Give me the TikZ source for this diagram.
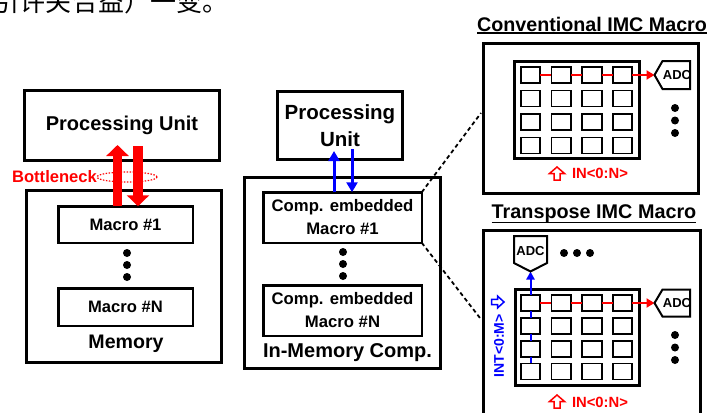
\documentclass[tikz,border=0pt]{standalone}
\usepackage{fontspec}
\setmainfont{Liberation Sans}
\newfontfamily\cjk{Noto Sans CJK SC}
\usetikzlibrary{arrows.meta,calc,shapes.geometric}
\begin{document}
\begin{tikzpicture}[x=1pt,y=-1pt,
 every node/.style={inner sep=0pt,outer sep=0pt,font=\bfseries},
 f/.style={font=\bfseries\fontsize{#1pt}{#1pt}\selectfont},
 box/.style={draw,line width=3pt},
 mbox/.style={draw,line width=2.5pt},
 cell/.style={draw,line width=1.8pt,fill=white,minimum width=19.5pt,minimum height=16pt},
 bdot/.style={circle,fill=black,minimum size=8pt},
 fatarr/.style={red,line width=9.5pt,-{Triangle[width=22pt,length=11pt]}},
 blarr/.style={blue,line width=3pt,-{Triangle[width=11pt,length=10pt]}},
 blarrs/.style={blue,line width=2pt,-{Triangle[width=8pt,length=8pt]}},
 rowline/.style={red,line width=2pt,-{Triangle[width=9pt,length=8pt]}},
 dline/.style={line width=1.8pt,dash pattern=on 4pt off 3pt},
 adcs/.style={draw,line width=2pt,fill=white,line join=miter},
 hollow/.style={line width=1.5pt,fill=white,line join=miter}
]
\useasboundingbox (0,0) rectangle (708,412);
\fill[white] (0,0) rectangle (708,412);

% clipped Chinese text line at the top
\node[anchor=base west,font=\cjk\fontsize{26pt}{26pt}\selectfont] (zh) at (-6,12) {引许关合益）一变。};

% ---------- left: conventional memory ----------
\node[box,minimum width=195pt,minimum height=70pt,f=20] (pu1) at (122,125.5) {Processing Unit};
\node[box,minimum width=195pt,minimum height=172pt] (mem) at (124,276.5) {};
\node[mbox,minimum width=134.5pt,minimum height=36.5pt,f=16.6] (m1) at (125.5,224.5) {Macro \#1};
\node[mbox,minimum width=134.5pt,minimum height=37.5pt,f=16.6] (mN) at (125.5,307) {Macro \#N};
\node[bdot] (ld1) at (127,253) {};
\node[bdot] (ld2) at (127,265) {};
\node[bdot] (ld3) at (127,277) {};
\node[f=19.6] (memlbl) at (126,344) {Memory};

\coordinate (ux) at (117.5,0);
\coordinate (dx) at (138,0);
\draw[fatarr] (ux |- m1.north) -- ($(ux |- pu1.south)+(0,-15.5)$);
\draw[fatarr] ($(dx |- pu1.south)+(0,-14.5)$) -- (dx |- m1.north);
\node[text=red,f=16.6] (bn) at (54.5,177) {Bottleneck};
\node[ellipse,draw=red,line width=1.2pt,dash pattern=on 1.5pt off 1.5pt,minimum width=60pt,minimum height=10pt] (bell) at (127,177) {};

% ---------- middle: in-memory computing ----------
\node[box,minimum width=125pt,minimum height=68pt,align=center,font=\bfseries\fontsize{20.5pt}{27pt}\selectfont] (pu2) at (340,125.5) {Processing\\Unit};
\node[box,minimum width=196pt,minimum height=191pt] (imc) at (342.5,273) {};
\node[mbox,minimum width=158.5pt,minimum height=50.5pt,align=center,font=\bfseries\fontsize{16.7pt}{23pt}\selectfont] (cm1) at (342.5,217.5) {Comp. embedded\\Macro \#1};
\node[mbox,minimum width=158.5pt,minimum height=50.5pt,align=center,font=\bfseries\fontsize{16.7pt}{23pt}\selectfont] (cmN) at (342.5,310.5) {Comp. embedded\\Macro \#N};
\node[bdot] (md1) at (343,252) {};
\node[bdot] (md2) at (343,264) {};
\node[bdot] (md3) at (343,276) {};
\node[f=20] (imclbl) at (347.5,353) {In-Memory Comp.};

\coordinate (bux) at (334,0);
\coordinate (bdx) at (352,0);
\draw[blarr] (bux |- cm1.north) -- ($(bux |- pu2.south)+(0,-8.5)$);
\draw[blarr] ($(bdx |- pu2.south)+(0,-10.5)$) -- (bdx |- cm1.north);

\coordinate (dA) at (481,113);
\coordinate (dB) at (480,318);
\draw[dline] (cm1.north east) -- (dA);
\draw[dline] (cm1.south east) -- (dB);

% ---------- conventional IMC macro ----------
\node[anchor=base,f=19.7] (t1) at (592,31) {Conventional IMC Macro};
\draw[line width=1.5pt] ([yshift=-2pt]t1.base west) -- ([yshift=-2pt]t1.base east);
\node[box,minimum width=215pt,minimum height=150pt] (conv) at (591,118.5) {};
\node[box,minimum width=125pt,minimum height=97pt] (arrA) at (577,110) {};
\foreach \r in {1,...,4} \foreach \c in {1,...,4}
  \node[cell] (a-\r-\c) at ({530.5+30.7*(\c-1)},{75+23.5*(\r-1)}) {};
\draw[red,line width=2pt] (a-1-1.east) -- (a-1-2.west) (a-1-2.east) -- (a-1-3.west) (a-1-3.east) -- (a-1-4.west);
\coordinate (tipA) at (654.5,75);
\draw[rowline] (a-1-4.east) -- (tipA);
\draw[adcs] (tipA) -- (662.5,61) -- (690,61) -- (690,89) -- (662.5,89) -- cycle;
\node[f=13] (adcA) at (677,75) {ADC};
\node[bdot] (ad1) at (675,108) {};
\node[bdot] (ad2) at (675,120.5) {};
\node[bdot] (ad3) at (675,133) {};
\draw[red,hollow] (557,167) -- (564.5,173.5) -- (560,173.5) -- (560,180) -- (554,180) -- (554,173.5) -- (549.5,173.5) -- cycle;
\node[text=red,f=14.8] (inA) at (600,173) {IN<0:N>};

% ---------- transpose IMC macro ----------
\node[anchor=base,f=19.8] (t2) at (594,218) {Transpose IMC Macro};
\draw[line width=1.5pt] ([yshift=-4.5pt]t2.base west) -- ([yshift=-4.5pt]t2.base east);
\node[box,minimum width=217pt,minimum height=208pt] (trans) at (592,334.5) {};
\node[box,minimum width=124pt,minimum height=96pt] (arrB) at (577.5,337.5) {};
\foreach \r in {1,...,4} \foreach \c in {1,...,4}
  \node[cell] (b-\r-\c) at ({530.5+30.7*(\c-1)},{303+22.8*(\r-1)}) {};
\draw[blue,line width=2pt] (b-1-1.south) -- (b-2-1.north) (b-2-1.south) -- (b-3-1.north) (b-3-1.south) -- (b-4-1.north);
\draw[red,line width=2pt] (b-1-1.east) -- (b-1-2.west) (b-1-2.east) -- (b-1-3.west) (b-1-3.east) -- (b-1-4.west);
\coordinate (tipB) at (654.5,303);
\draw[rowline] (b-1-4.east) -- (tipB);
\draw[adcs] (tipB) -- (662.5,289.5) -- (690,289.5) -- (690,316.5) -- (662.5,316.5) -- cycle;
\node[f=13] (adcB) at (677,303) {ADC};
\coordinate (tipC) at (530.5,271.5);
\draw[blarrs] (b-1-1.north) -- (tipC);
\draw[adcs] (514,236) -- (547,236) -- (547,263) -- (tipC) -- (514,263) -- cycle;
\node[f=13] (adcC) at (530.5,251) {ADC};
\node[bdot] (hd1) at (564,253) {};
\node[bdot] (hd2) at (577,253) {};
\node[bdot] (hd3) at (590,253) {};
\node[bdot] (bd1) at (675,335) {};
\node[bdot] (bd2) at (675,347.5) {};
\node[bdot] (bd3) at (675,360) {};
\draw[blue,hollow] (504,302) -- (497.5,296) -- (497.5,299.3) -- (491.5,299.3) -- (491.5,304.7) -- (497.5,304.7) -- (497.5,308) -- cycle;
\node[text=blue,rotate=90,f=14] (intl) at (499,346) {INT<0:M>};
\draw[red,hollow] (557,395) -- (564.5,401.5) -- (560,401.5) -- (560,408) -- (554,408) -- (554,401.5) -- (549.5,401.5) -- cycle;
\node[text=red,f=14.8] (inB) at (600,402) {IN<0:N>};
\end{tikzpicture}
\end{document}
